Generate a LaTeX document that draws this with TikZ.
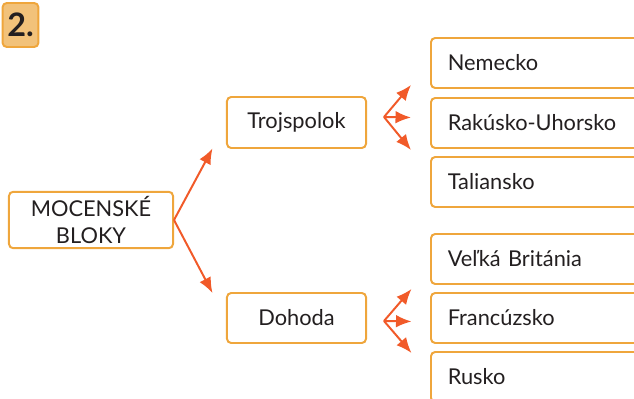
\documentclass[tikz,border=0pt]{standalone}
\usepackage{fontspec}
\setmainfont{Lato}
\usetikzlibrary{arrows.meta,positioning,calc}

\definecolor{ramcek}{HTML}{EFA63C}
\definecolor{sipkova}{HTML}{F15A29}
\definecolor{odznak}{HTML}{F2C27A}
\definecolor{pismo}{HTML}{231F20}

\begin{document}
\begin{tikzpicture}[
  x=0.025cm, y=-0.025cm,
  blok/.style={rectangle, draw=ramcek, line width=1.4pt, rounded corners=3pt, fill=white,
    text=pismo, minimum height=1.25cm, font=\fontsize{15.5}{19}\selectfont, align=center},
  krajina/.style={blok, anchor=west, text width=5.2cm, align=left, inner xsep=0.42cm},
  sipka/.style={->, draw=sipkova, line width=1.4pt},
  >={Latex[length=11pt,width=9pt]}
]
\path[use as bounding box, clip] (0,0) rectangle (634,399);

% Number badge
\node[draw=ramcek, fill=odznak, line width=1.4pt, rounded corners=3pt, text=pismo,
  minimum width=0.875cm, minimum height=1.1cm, font=\bfseries\fontsize{23}{26}\selectfont]
  (cislo) at (20.5,25) {2.};

% Root and the two blocs
\node[blok, minimum width=4.1cm] (root) at (91,220) {MOCENSKÉ\\BLOKY};
\node[blok, minimum width=3.475cm, minimum height=1.275cm] (trojspolok) at (296.5,122.5) {Trojspolok};
\node[blok, minimum width=3.475cm] (dohoda) at (296.5,318) {Dohoda};

% Countries
\node[krajina] (nemecko) at (430,63) {Nemecko};
\node[krajina] (rakusko) at (430,123) {Rakúsko-Uhorsko};
\node[krajina] (taliansko) at (430,182) {Taliansko};
\node[krajina] (britania) at (430,259) {Veľká Británia};
\node[krajina] (francuzsko) at (430,318) {Francúzsko};
\node[krajina] (rusko) at (430,377) {Rusko};

% Arrows from the root
\coordinate (hore) at (212.5,148.5);
\coordinate (dole) at (212.5,293);
\draw[sipka] (root.east) -- (hore);
\draw[sipka] (root.east) -- (dole);

% Fan: Trojspolok
\coordinate (tstred) at (384,117);
\draw[sipka] (tstred) -- (411,85);
\draw[sipka] (tstred) -- (411,117.5);
\draw[sipka] (tstred) -- (411,150);

% Fan: Dohoda
\coordinate (dstred) at (384,321);
\draw[sipka] (dstred) -- (411.5,289);
\draw[sipka] (dstred) -- (411.5,321.5);
\draw[sipka] (dstred) -- (411.5,353);

\end{tikzpicture}
\end{document}
